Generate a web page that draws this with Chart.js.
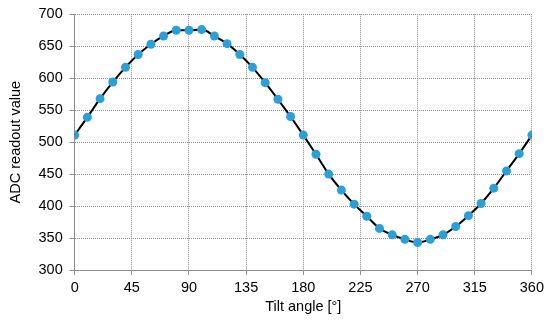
<!DOCTYPE html>
<html>
<head>
<meta charset="utf-8">
<script src="https://cdn.jsdelivr.net/npm/chart.js@4/dist/chart.umd.min.js"></script>
<style>
  html, body { margin: 0; padding: 0; background: #fff; }
  #wrap { width: 550px; height: 323px; }
</style>
</head>
<body>
<div id="wrap"><canvas id="myChart"></canvas></div>
<script>
// tilt angle in degrees, one reading every 10°
const angles = [0, 10, 20, 30, 40, 50, 60, 70, 80, 90, 100, 110, 120, 130, 140, 150, 160, 170, 180,
    190, 200, 210, 220, 230, 240, 250, 260, 270, 280, 290, 300, 310, 320, 330, 340, 350, 360];
// ADC readout
const adcValues = [511, 539, 568, 594, 617, 637, 653, 666, 675, 675, 676, 666, 654, 637, 617, 593, 567, 540, 511,
    481, 450, 425, 403, 384, 365, 355, 348, 343, 348, 355, 368, 385, 404, 428, 455, 482, 511];

const gridGray = '#8c8c8c';
const tickFont = { family: 'Liberation Sans, Arial, sans-serif', size: 14.5, lineHeight: 1 };
const titleFont = { family: 'Liberation Sans, Arial, sans-serif', size: 14.5, lineHeight: 1 };

var ctx = document.getElementById('myChart');
var myChart = new Chart(ctx, {
    type: 'line',
    data: {
        datasets: [{
            data: angles.map((a, i) => ({ x: a, y: adcValues[i] })),
            borderColor: '#000000',
            borderWidth: 2,
            tension: 0.4,
            cubicInterpolationMode: 'monotone',
            pointRadius: 4.5,
            pointBackgroundColor: '#2a9fd8',
            pointBorderColor: '#2a9fd8',
            pointBorderWidth: 0
        }]
    },
    options: {
        responsive: true,
        maintainAspectRatio: false,
        animation: false,
        layout: { padding: { top: 3, right: 6, left: 9, bottom: 9 } },
        plugins: { legend: { display: false }, tooltip: { enabled: false } },
        scales: {
            x: {
                type: 'linear',
                min: 0,
                max: 360,
                grid: {
                    color: gridGray,
                    tickLength: 5,
                    tickColor: gridGray,
                    tickBorderDash: []
                },
                border: { color: gridGray, width: 1, dash: [1, 1] },
                ticks: { stepSize: 45, color: '#000', font: tickFont, padding: 6, maxRotation: 0 },
                title: { display: true, text: 'Tilt angle [°]', color: '#000', font: titleFont, padding: { top: -2, bottom: 0 } }
            },
            y: {
                min: 300,
                max: 700,
                grid: {
                    color: gridGray,
                    tickLength: 5,
                    tickColor: gridGray,
                    tickBorderDash: []
                },
                border: { color: gridGray, width: 1, dash: [1, 1] },
                ticks: { stepSize: 50, color: '#000', font: tickFont, padding: 7 },
                title: { display: true, text: 'ADC readout value', color: '#000', font: titleFont, padding: { top: 0, bottom: 8 } }
            }
        }
    }
});
</script>
</body>
</html>
